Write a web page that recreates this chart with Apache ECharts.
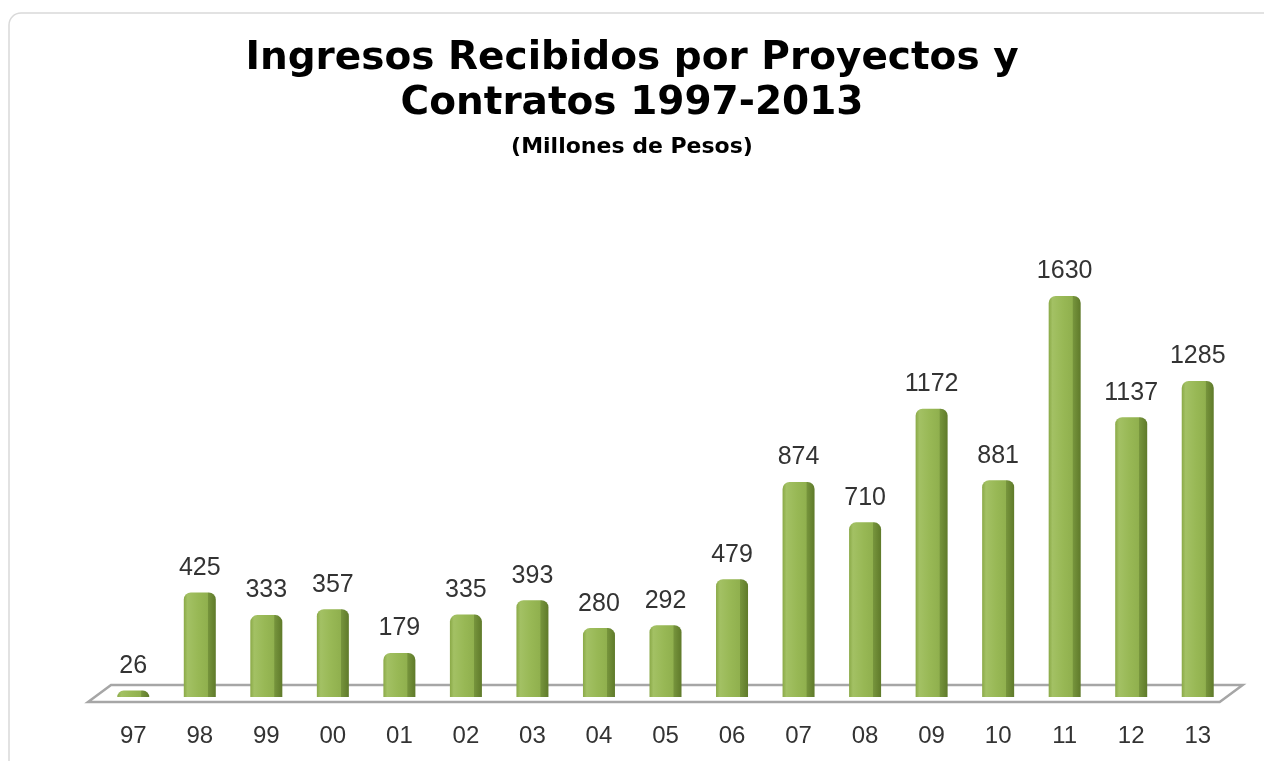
<!DOCTYPE html>
<html><head><meta charset="utf-8">
<script src="https://cdn.jsdelivr.net/npm/echarts@6/dist/echarts.min.js"></script>
<style>html,body{margin:0;padding:0;background:#fff}#c{width:1264px;height:761px}</style>
</head><body><div id="c"></div>
<script>
const categories = ['97','98','99','00','01','02','03','04','05','06','07','08','09','10','11','12','13'];
const values = [26,425,333,357,179,335,393,280,292,479,874,710,1172,881,1630,1137,1285];
const titleLine1 = 'Ingresos Recibidos por Proyectos y';
const titleLine2 = 'Contratos 1997-2013';
const subtitleText = '(Millones de Pesos)';

const chart = echarts.init(document.getElementById('c'));
const barFill = new echarts.graphic.LinearGradient(0,0,1,0,[
  {offset:0,color:'#8aa947'},{offset:0.12,color:'#a3c164'},{offset:0.45,color:'#98b855'},
  {offset:0.74,color:'#90b04e'},{offset:0.76,color:'#76943c'},{offset:1,color:'#5f7a2a'}
]);
const tStyle = {fontFamily:'DejaVu Sans',fontWeight:'bold',fontSize:39,color:'#000'};
chart.setOption({
  animation:false,
  graphic:[{type:'rect',shape:{x:9,y:13,width:1275,height:770,r:12},style:{fill:'none',stroke:'#d9d9d9',lineWidth:1.5},z:-10}],
  title:[
    {text:titleLine1,left:'center',top:34,textStyle:tStyle},
    {text:titleLine2,left:'center',top:79,textStyle:tStyle},
    {text:subtitleText,left:'center',top:131,textStyle:{fontFamily:'DejaVu Sans',fontWeight:'bold',fontSize:22,color:'#000'}}
  ],
  grid:{left:100,right:33,top:205,bottom:64},
  xAxis:{type:'category',data:categories,axisLine:{show:false},axisTick:{show:false},
    axisLabel:{margin:27,fontFamily:'Liberation Sans',fontSize:24,color:'#333'}},
  yAxis:{type:'value',min:0,max:2000,show:false,splitLine:{show:false}},
  series:[
    {type:'custom',data:[0],z:1,silent:true,
     renderItem:function(params,api){
       const p0=api.coord([0,0]); const p1=api.coord([categories.length-1,0]);
       const bw=api.size([1,0])[0];
       const yf=p0[1]+5, yb=p0[1]-12;
       const xl=p0[0]-bw*0.68, xr=p1[0]+bw*0.33;
       return {type:'polygon',shape:{points:[[xl,yf],[xl+23,yb],[xr+23,yb],[xr,yf]]},
         style:{fill:'#ffffff',stroke:'#a6a6a6',lineWidth:2.5}};
     }},
    {type:'bar',data:values,barWidth:32,z:3,
     itemStyle:{color:barFill,borderRadius:[7,7,0,0]},
     label:{show:true,position:'top',distance:12,fontFamily:'Liberation Sans',fontSize:25,color:'#333'}}
  ]
});
</script></body></html>
